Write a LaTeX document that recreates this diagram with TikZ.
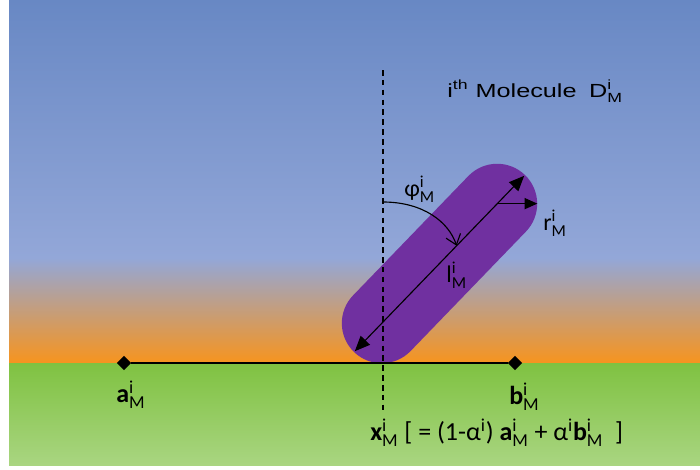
\documentclass[tikz,border=0pt]{standalone}
\usepackage{amsmath}
\usepackage{fontspec}
\setmainfont{Carlito}
\newfontfamily\arialfont{Liberation Sans}
\usepackage{tikz}
\usetikzlibrary{positioning, arrows.meta, shapes.geometric, calc}
\definecolor{SkyTop}{HTML}{6888C4}
\definecolor{SkyLow}{HTML}{93A7D8}
\definecolor{DuskMid}{HTML}{B8916F}
\definecolor{DuskOrange}{HTML}{F7941E}
\definecolor{GroundTop}{HTML}{7FC241}
\definecolor{GroundLow}{HTML}{A9D581}
\definecolor{MolPurple}{HTML}{7030A0}
\newcommand{\idx}[1]{#1$^{\text{i}}_{\text{M}}$}

\begin{document}
\begin{tikzpicture}[x=0.025cm, y=-0.025cm,
    endpoint/.style={diamond, fill=black, inner sep=0pt, minimum size=0.36cm},
    capsule/.style={fill=MolPurple, rounded corners=1cm, minimum width=6.15cm, minimum height=2cm, inner sep=0pt},
    lbl/.style={font=\fontsize{17}{19}\selectfont, inner sep=0pt, anchor=base west},
    biglbl/.style={lbl, font=\fontsize{18.5}{20}\selectfont},
    lenarrow/.style={line width=0.8pt, {Triangle[length=3.8mm, width=3.2mm]}-{Triangle[length=3.8mm, width=3.2mm]}},
    radarrow/.style={line width=0.8pt, -{Triangle[length=3.2mm, width=2.8mm]}},
    angarrow/.style={line width=0.8pt, -{Straight Barb[length=2.4mm, width=3.8mm]}},
    axisline/.style={line width=0.75pt, dash pattern=on 4pt off 3pt}
  ]
  \useasboundingbox (0,0) rectangle (700,469);

  % background bands
  \shade[top color=SkyTop, bottom color=SkyLow] (9,0) rectangle (700,258);
  \shade[top color=SkyLow, middle color=DuskMid, bottom color=DuskOrange] (9,258) rectangle (700,363);
  \shade[top color=GroundTop, bottom color=GroundLow] (9,363) rectangle (700,465);

  % molecule
  \node[capsule, rotate=46] (mol) at (439.5,263.5) {};
  \coordinate (topc) at ($(mol.center)!0.675!(mol.east)$);
  \coordinate (redge) at ($(topc)+(40,0)$);
  \coordinate (phiend) at ($(mol.center)!0.2!(mol.east)$);
  \coordinate (phistart) at (383,202);
  \coordinate (dtop) at (383,70);
  \coordinate (dbot) at (383,410);

  % segment a--b
  \node[endpoint] (a) at (124,363) {};
  \node[endpoint] (b) at (515,363) {};
  \draw[line width=1pt] (a) -- (b);

  \draw[axisline] (dtop) -- (dbot);
  \draw[lenarrow, shorten <=1pt, shorten >=1pt] (mol.west) -- (mol.east);
  \draw[radarrow] (topc) -- (redge);
  \draw[angarrow] (phistart) .. controls +(40,0) and +(-8,-24) .. (phiend);

  % labels
  \node[lbl] (philbl) at (404,196) {\idx{φ}};
  \node[lbl] (lenlbl) at (446,282) {\idx{l}};
  \node[lbl] (radlbl) at (543,230) {\idx{r}};
  \node[biglbl] (albl) at (116,402) {\idx{\textbf{a}}};
  \node[biglbl] (blbl) at (509,404) {\idx{\textbf{b}}};
  \node[biglbl] (xlbl) at (370,440) {\idx{\textbf{x}} [ = (1-α$^{\text{i}}$) \idx{\textbf{a}} + α$^{\text{i}}$\idx{\textbf{b}}\ \ ]};
  \node[lbl, font=\arialfont\fontsize{13.5}{15}\selectfont] (title) at (447,97) {\scalebox{1.33}[1]{i\textsuperscript{th} Molecule\enspace D$^{\text{i}}_{\text{M}}$}};
\end{tikzpicture}
\end{document}
